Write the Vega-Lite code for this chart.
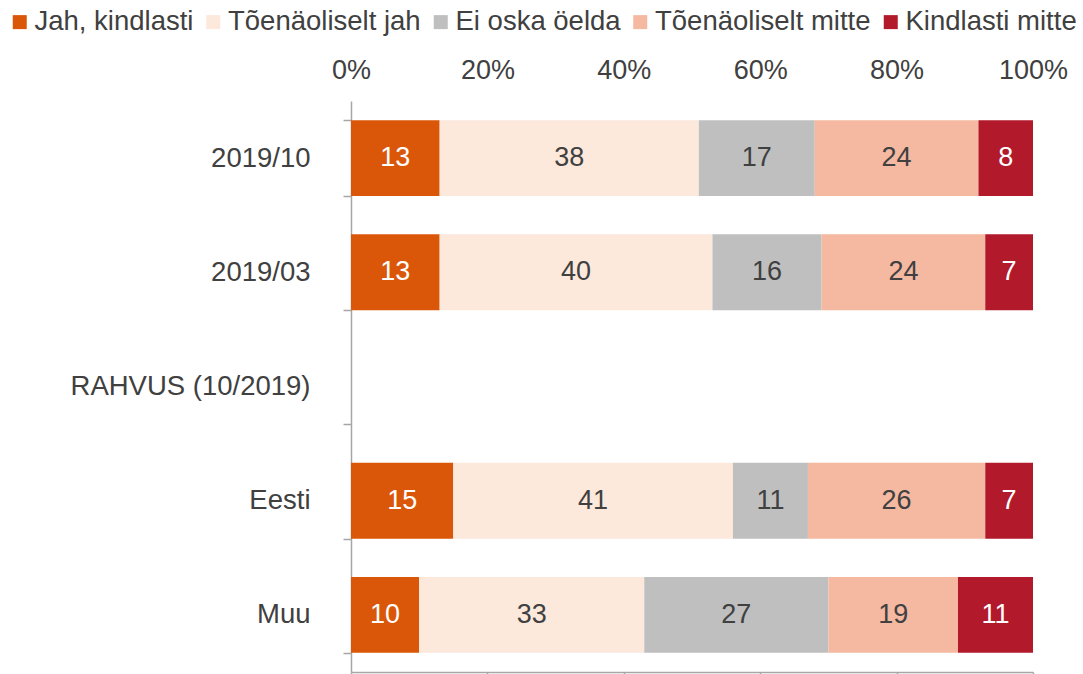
{
  "$schema": "https://vega.github.io/schema/vega-lite/v6.json",
  "width": 682,
  "height": 571,
  "autosize": {"type": "none"},
  "padding": {"left": 351, "top": 101, "right": 50, "bottom": 2},
  "background": "white",
  "config": {
    "view": {"stroke": null},
    "font": "Liberation Sans",
    "text": {"font": "Liberation Sans"}
  },
  "data": {
    "values": [
      {"group": "2019/10", "answer": "Jah, kindlasti", "value": 13, "order": 1},
      {"group": "2019/10", "answer": "Tõenäoliselt jah", "value": 38, "order": 2},
      {"group": "2019/10", "answer": "Ei oska öelda", "value": 17, "order": 3},
      {"group": "2019/10", "answer": "Tõenäoliselt mitte", "value": 24, "order": 4},
      {"group": "2019/10", "answer": "Kindlasti mitte", "value": 8, "order": 5},
      {"group": "2019/03", "answer": "Jah, kindlasti", "value": 13, "order": 1},
      {"group": "2019/03", "answer": "Tõenäoliselt jah", "value": 40, "order": 2},
      {"group": "2019/03", "answer": "Ei oska öelda", "value": 16, "order": 3},
      {"group": "2019/03", "answer": "Tõenäoliselt mitte", "value": 24, "order": 4},
      {"group": "2019/03", "answer": "Kindlasti mitte", "value": 7, "order": 5},
      {"group": "Eesti", "answer": "Jah, kindlasti", "value": 15, "order": 1},
      {"group": "Eesti", "answer": "Tõenäoliselt jah", "value": 41, "order": 2},
      {"group": "Eesti", "answer": "Ei oska öelda", "value": 11, "order": 3},
      {"group": "Eesti", "answer": "Tõenäoliselt mitte", "value": 26, "order": 4},
      {"group": "Eesti", "answer": "Kindlasti mitte", "value": 7, "order": 5},
      {"group": "Muu", "answer": "Jah, kindlasti", "value": 10, "order": 1},
      {"group": "Muu", "answer": "Tõenäoliselt jah", "value": 33, "order": 2},
      {"group": "Muu", "answer": "Ei oska öelda", "value": 27, "order": 3},
      {"group": "Muu", "answer": "Tõenäoliselt mitte", "value": 19, "order": 4},
      {"group": "Muu", "answer": "Kindlasti mitte", "value": 11, "order": 5}
    ]
  },
  "transform": [
    {"stack": "value", "groupby": ["group"], "sort": [{"field": "order", "order": "ascending"}], "as": ["x0", "x1"]},
    {"calculate": "(datum.x0 + datum.x1) / 2", "as": "xmid"}
  ],
  "layer": [
    {
      "mark": {"type": "bar"},
      "encoding": {
        "y": {
          "field": "group",
          "type": "nominal",
          "scale": {
            "domain": ["2019/10", "2019/03", "RAHVUS (10/2019)", "Eesti", "Muu"],
            "paddingInner": 0.335,
            "paddingOuter": 0.1675
          },
          "axis": {
            "title": null,
            "domainColor": "#a6a6a6",
            "domainWidth": 1.5,
            "tickColor": "#a6a6a6",
            "tickWidth": 1.5,
            "tickSize": 8,
            "tickBand": "extent",
            "labelFontSize": 27.5,
            "labelColor": "#404040",
            "labelFont": "Liberation Sans",
            "labelPadding": 33,
            "labelLimit": 400
          }
        },
        "x": {
          "field": "x0",
          "type": "quantitative",
          "scale": {"domain": [0, 100], "nice": false},
          "axis": {
            "orient": "bottom",
            "title": null,
            "labels": false,
            "grid": false,
            "values": [0, 20, 40, 60, 80, 100],
            "domainColor": "#a6a6a6",
            "domainWidth": 1.5,
            "tickColor": "#a6a6a6",
            "tickWidth": 1.5,
            "tickSize": 5
          }
        },
        "x2": {"field": "x1"},
        "color": {
          "field": "answer",
          "type": "nominal",
          "sort": ["Jah, kindlasti", "Tõenäoliselt jah", "Ei oska öelda", "Tõenäoliselt mitte", "Kindlasti mitte"],
          "scale": {
            "domain": ["Jah, kindlasti", "Tõenäoliselt jah", "Ei oska öelda", "Tõenäoliselt mitte", "Kindlasti mitte"],
            "range": ["#da570a", "#fde9dc", "#bfbfbf", "#f4b9a0", "#b2192b"]
          },
          "legend": {
            "title": null,
            "orient": "none",
            "direction": "horizontal",
            "legendX": -345,
            "legendY": -93,
            "symbolType": "square",
            "symbolSize": 196,
            "symbolStrokeWidth": 0,
            "labelFontSize": 27.5,
            "labelFont": "Liberation Sans",
            "labelColor": "#404040",
            "labelOffset": 1,
            "columnPadding": 5.5,
            "labelLimit": 400,
            "padding": 0
          }
        }
      }
    },
    {
      "mark": {"type": "text", "fontSize": 27, "font": "Liberation Sans", "baseline": "middle", "align": "center"},
      "encoding": {
        "y": {"field": "group", "type": "nominal"},
        "x": {
          "field": "xmid",
          "type": "quantitative",
          "axis": {
            "orient": "top",
            "title": null,
            "grid": false,
            "domain": false,
            "ticks": false,
            "tickSize": 0,
            "values": [0, 20, 40, 60, 80, 100],
            "labelExpr": "datum.value + '%'",
            "labelFontSize": 27,
            "labelFont": "Liberation Sans",
            "labelColor": "#404040",
            "labelBaseline": "alphabetic",
            "labelPadding": 23,
            "labelFlush": false,
            "labelOverlap": false
          }
        },
        "text": {"field": "value", "type": "quantitative"},
        "color": {
          "condition": {"test": "datum.answer === 'Jah, kindlasti' || datum.answer === 'Kindlasti mitte'", "value": "white"},
          "value": "#404040"
        }
      }
    }
  ],
  "resolve": {"axis": {"x": "independent"}}
}
